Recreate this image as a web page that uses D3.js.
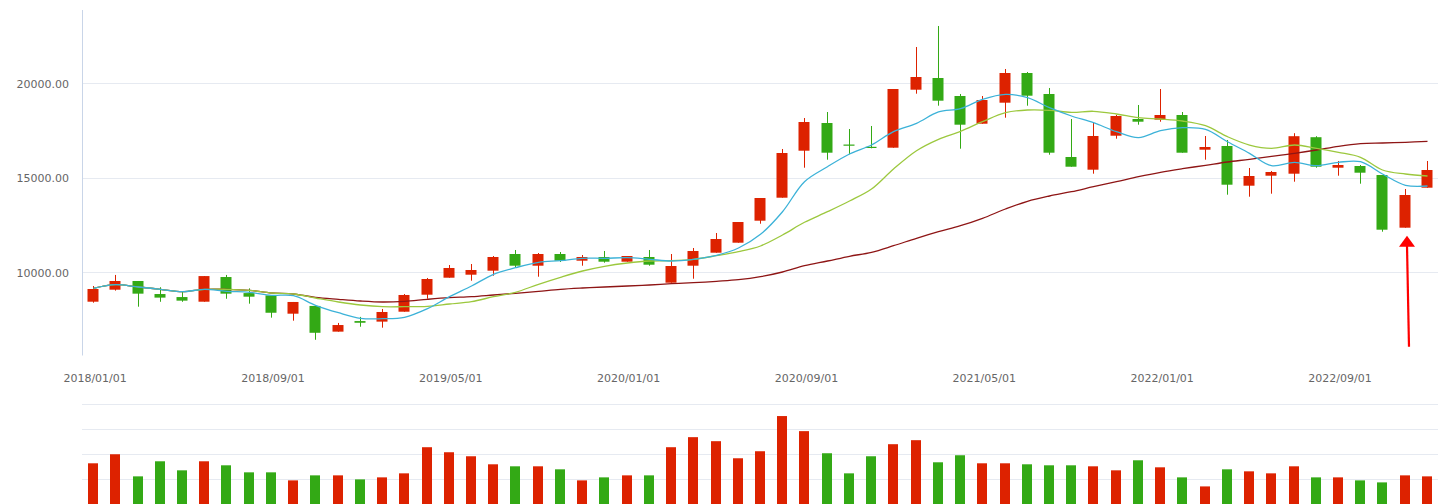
<!DOCTYPE html>
<html>
<head>
<meta charset="utf-8">
<script src="https://cdn.jsdelivr.net/npm/d3@7/dist/d3.min.js"></script>
<style>
  html, body { margin: 0; padding: 0; background: #fff; }
  svg { display: block; }
  text { font-family: "DejaVu Sans", Verdana, sans-serif; }
</style>
</head>
<body>
<svg id="chart" width="1456" height="504"></svg>
<script>
// ---------- data ----------
const dates = [
  "2018/01/01","2018/02/01","2018/03/01","2018/04/01","2018/05/01","2018/06/01","2018/07/01","2018/08/01","2018/09/01","2018/10/01","2018/11/01","2018/12/01",
  "2019/01/01","2019/02/01","2019/03/01","2019/04/01","2019/05/01","2019/06/01","2019/07/01","2019/08/01","2019/09/01","2019/10/01","2019/11/01","2019/12/01",
  "2020/01/01","2020/02/01","2020/03/01","2020/04/01","2020/05/01","2020/06/01","2020/07/01","2020/08/01","2020/09/01","2020/10/01","2020/11/01","2020/12/01",
  "2021/01/01","2021/02/01","2021/03/01","2021/04/01","2021/05/01","2021/06/01","2021/07/01","2021/08/01","2021/09/01","2021/10/01","2021/11/01","2021/12/01",
  "2022/01/01","2022/02/01","2022/03/01","2022/04/01","2022/05/01","2022/06/01","2022/07/01","2022/08/01","2022/09/01","2022/10/01","2022/11/01","2022/12/01",
  "2023/01/01"
];
const open  = [8444,9080,9540,8850,8690,8444,9750,8900,8780,7810,8220,6860,7420,7390,7915,8815,9714,9873,10085,10968,10349,10968,10614,10810,10561,10810,
  9450,10349,11037,11566,12730,13947,16434,17899,16760,16640,16593,19661,20280,19328,17862,18974,20545,19434,16101,15429,17227,18111,18074,18323,
  16487,16683,14582,15111,15217,17148,15534,15624,15148,12360,14476];
const close = [9116,9540,8870,8660,8500,9800,8870,8710,7860,8430,6800,7210,7330,7900,8800,9645,10228,10122,10810,10349,10968,10614,10810,10561,10862,10402,
  10333,11127,11762,12661,13931,16312,17952,16328,16710,16590,19698,20333,19080,17810,19116,20545,19344,16328,15587,17212,18270,17968,18323,16328,
  16630,14635,15095,15307,17201,15587,15677,15270,12254,14090,15413];
const high  = [9275,9860,9540,9210,9010,9800,9860,9150,8780,8430,8220,7320,7640,8060,8850,9700,10386,10439,10862,11180,11021,11074,10915,11127,10862,11180,
  10968,11286,12079,12661,13931,16524,18164,18481,17582,17741,19698,21921,23032,19434,19328,20757,20598,19752,18111,17899,18323,18852,19698,18481,
  17212,17000,15519,15360,17360,17201,15889,15677,15148,14407,15889];
const low   = [8392,9030,8180,8440,8440,8444,8600,8340,7600,7440,6430,6860,7120,7070,7915,8600,9714,9556,9820,10265,9767,10545,10349,10508,10561,10349,
  9450,9661,11037,11566,12571,13947,15534,15958,16243,16561,16593,19450,18815,16540,17862,18180,18815,16222,15587,15217,17069,17810,17968,16328,
  15958,14106,14000,14159,14794,15534,15111,14688,12148,12360,14476];
const volume = [164,200,112,172,136,172,156,128,128,96,116,116,100,108,124,228,208,192,160,152,152,140,96,108,116,116,228,268,252,184,
  212,352,292,204,124,192,240,256,168,196,164,164,160,156,156,152,136,176,148,108,72,140,132,124,152,108,108,96,88,116,112];
const maShort = [9153,9344,9222,9101,8974,9101,8995,8942,8783,8762,8254,7862,7566,7545,7619,8074,8709,9275,9894,10243,10529,10614,10741,10741,10772,10688,
  10598,10688,10899,11286,12011,13206,14794,15587,16259,16735,17439,17884,18482,18656,19153,19418,19238,18709,18270,17915,17439,17122,17492,17651,
  17566,16910,16296,15640,15820,15640,15820,15852,15201,14603,14566];
const maMid = [9153,9344,9222,9101,8974,9101,9101,9048,8905,8852,8640,8429,8270,8180,8180,8201,8323,8444,8709,8942,9365,9735,10069,10317,10492,10598,
  10614,10688,10878,11090,11392,11974,12646,13206,13772,14407,15466,16434,17037,17460,17968,18444,18587,18571,18466,18519,18376,18180,18111,18005,
  17757,17175,16735,16561,16735,16561,16349,16085,15413,15201,15095];
const maLong = [9153,9344,9222,9101,8974,9101,9101,9048,8905,8852,8677,8571,8481,8429,8466,8571,8656,8709,8799,8889,8995,9101,9169,9222,9275,9328,
  9397,9450,9524,9608,9767,10016,10349,10598,10847,11058,11407,11799,12148,12466,12857,13349,13757,14037,14265,14529,14794,15058,15291,15482,
  15661,15836,15979,16138,16296,16471,16667,16804,16841,16878,16931];
const priceTicks = [10000, 15000, 20000];
const volumeTicks = [100, 200, 300, 400];
const xTickLabels = ["2018/01/01","2018/09/01","2019/05/01","2020/01/01","2020/09/01","2021/05/01","2022/01/01","2022/09/01"];
const markedIndex = 59; // candle pointed at by the arrow

// ---------- drawing ----------
const svg = d3.select("#chart");
const W = 1456, H = 504;
const left = 82, right = 1438;
const UP = "#dd2200", DOWN = "#33a915";

const x = d3.scaleBand().domain(dates).range([left, right]).paddingInner(0.5).paddingOuter(0.25);
const cx = d => Math.round(x(d) + x.bandwidth() / 2) + 0.5;
const bw = 11;

const y = d3.scaleLinear().domain([10000, 20000]).range([272.3, 83.3]);
const yv = d3.scaleLinear().domain([0, 400]).range([504.5, 404]);

// price grid
svg.append("g").selectAll("line").data(priceTicks).join("line")
  .attr("x1", left).attr("x2", right)
  .attr("y1", d => Math.round(y(d)) + 0.5).attr("y2", d => Math.round(y(d)) + 0.5)
  .attr("stroke", "#e6eaf1").attr("stroke-width", 1);

// y axis line
svg.append("line").attr("x1", left + 0.5).attr("x2", left + 0.5).attr("y1", 10).attr("y2", 355.5)
  .attr("stroke", "#c9d5e8").attr("stroke-width", 1);

// y labels
const yAxis = d3.axisLeft(y).tickValues(priceTicks).tickFormat(d3.format(".2f")).tickSize(0).tickPadding(13);
const ya = svg.append("g").attr("transform", `translate(${left},0.5)`).call(yAxis);
ya.select(".domain").remove();
ya.selectAll("text").attr("fill", "#666").style("font-size", "11px").style("font-family", "DejaVu Sans, Verdana, sans-serif");

// x labels
const xa = d3.axisBottom(x).tickValues(xTickLabels).tickSize(0).tickPadding(0);
const xg = svg.append("g").attr("transform", `translate(2,374)`).call(xa);
xg.select(".domain").remove();
xg.selectAll("text").attr("fill", "#666").style("font-size", "11px").style("font-family", "DejaVu Sans, Verdana, sans-serif");

// volume grid
svg.append("g").selectAll("line").data(volumeTicks).join("line")
  .attr("x1", left).attr("x2", right)
  .attr("y1", d => Math.round(yv(d)) + 0.5).attr("y2", d => Math.round(yv(d)) + 0.5)
  .attr("stroke", "#e6eaf1").attr("stroke-width", 1);

const idx = d3.range(dates.length);
const col = i => close[i] >= open[i] ? UP : DOWN;

// volume bars
svg.append("g").selectAll("rect").data(idx).join("rect")
  .attr("x", i => cx(dates[i]) - 5.5)
  .attr("width", 10)
  .attr("y", i => yv(volume[i]))
  .attr("height", i => yv(0) - yv(volume[i]))
  .attr("fill", col);

// candles
const cg = svg.append("g");
cg.selectAll("line").data(idx).join("line")
  .attr("x1", i => cx(dates[i])).attr("x2", i => cx(dates[i]))
  .attr("y1", i => y(high[i])).attr("y2", i => y(low[i]))
  .attr("stroke", col).attr("stroke-width", 1);
cg.selectAll("rect").data(idx).join("rect")
  .attr("x", i => cx(dates[i]) - 0.5 - bw / 2)
  .attr("width", bw)
  .attr("y", i => y(Math.max(open[i], close[i])))
  .attr("height", i => Math.max(1.2, y(Math.min(open[i], close[i])) - y(Math.max(open[i], close[i]))))
  .attr("fill", col);

// moving average lines
const line = arr => d3.line()
  .x((d, i) => cx(dates[i]))
  .y(d => y(d))
  .curve(d3.curveCatmullRom.alpha(0.5))(arr);
[[maLong, "#8e1515"], [maMid, "#9cc83e"], [maShort, "#3cb2d8"]].forEach(([arr, c]) => {
  svg.append("path").attr("d", line(arr)).attr("fill", "none").attr("stroke", c).attr("stroke-width", 1.3);
});

// annotation arrow
const ax = cx(dates[markedIndex]) + 1.5;
const tipY = y(low[markedIndex]) + 8;
svg.append("line").attr("x1", ax + 2).attr("y1", tipY + 111).attr("x2", ax).attr("y2", tipY + 10)
  .attr("stroke", "#ff0000").attr("stroke-width", 2.2);
svg.append("path")
  .attr("d", `M${ax},${tipY} L${ax - 8},${tipY + 11} L${ax + 8},${tipY + 11} Z`)
  .attr("fill", "#ff0000");
</script>
</body>
</html>
